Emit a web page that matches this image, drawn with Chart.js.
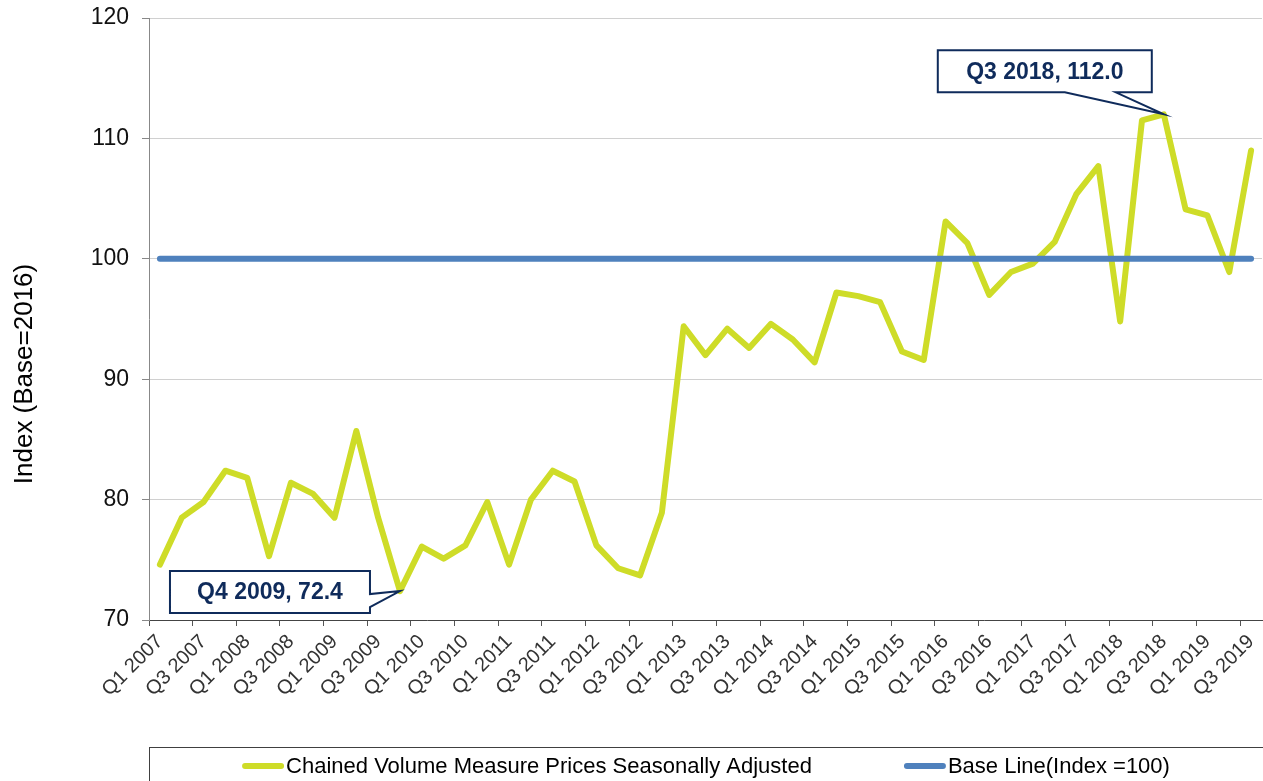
<!DOCTYPE html>
<html><head><meta charset="utf-8">
<script src="https://cdn.jsdelivr.net/npm/chart.js@4.4.1/dist/chart.umd.min.js"></script>
<style>html,body{margin:0;padding:0;background:#fff;}#wrap{width:1263px;height:781px;position:relative;}</style>
</head><body><div id="wrap"><canvas id="c"></canvas></div>
<script>
const categories = [
  'Q1 2007','Q2 2007','Q3 2007','Q4 2007','Q1 2008','Q2 2008','Q3 2008','Q4 2008',
  'Q1 2009','Q2 2009','Q3 2009','Q4 2009','Q1 2010','Q2 2010','Q3 2010','Q4 2010',
  'Q1 2011','Q2 2011','Q3 2011','Q4 2011','Q1 2012','Q2 2012','Q3 2012','Q4 2012',
  'Q1 2013','Q2 2013','Q3 2013','Q4 2013','Q1 2014','Q2 2014','Q3 2014','Q4 2014',
  'Q1 2015','Q2 2015','Q3 2015','Q4 2015','Q1 2016','Q2 2016','Q3 2016','Q4 2016',
  'Q1 2017','Q2 2017','Q3 2017','Q4 2017','Q1 2018','Q2 2018','Q3 2018','Q4 2018',
  'Q1 2019','Q2 2019','Q3 2019'
];
const chainedVolume = [
  74.6, 78.5, 79.8, 82.4, 81.8, 75.3, 81.4, 80.5,
  78.5, 85.7, 78.5, 72.4, 76.1, 75.1, 76.2, 79.8,
  74.6, 80.0, 82.4, 81.5, 76.2, 74.3, 73.7, 78.9,
  94.4, 92.0, 94.2, 92.6, 94.6, 93.3, 91.4, 97.2,
  96.9, 96.4, 92.3, 91.6, 103.1, 101.3, 97.0, 98.9,
  99.6, 101.4, 105.4, 107.7, 94.8, 111.5, 112.0, 104.1,
  103.6, 98.9, 109.0
];
const baseLine = [
  100, 100, 100, 100, 100, 100, 100, 100,
  100, 100, 100, 100, 100, 100, 100, 100,
  100, 100, 100, 100, 100, 100, 100, 100,
  100, 100, 100, 100, 100, 100, 100, 100,
  100, 100, 100, 100, 100, 100, 100, 100,
  100, 100, 100, 100, 100, 100, 100, 100,
  100, 100, 100
];
const seriesNames = ['Chained Volume Measure Prices Seasonally Adjusted', 'Base Line(Index =100)'];
const yTicks = [70, 80, 90, 100, 110, 120];
const yTitle = 'Index (Base=2016)';
const calloutIndices = [11, 46];

const GREEN = '#CEDC28', BLUE = '#4F81BD', NAVY = '#0F2B5B';
const FONT = '"Liberation Sans", Arial, sans-serif';

const calloutLayout = {
  11: {side: 'right', x0: -230, x1: -30, y0: -20, y1: 22, n0: 3, n1: 16},
  46: {side: 'bottom', x0: -226, x1: -12, y0: -64, y1: -22, n0: -99, n1: -48}
};

const calloutPlugin = {
  id: 'callouts',
  afterDatasetsDraw(chart) {
    const ctx = chart.ctx, xs = chart.scales.x, ys = chart.scales.y;
    calloutIndices.forEach(i => {
      const tx = xs.getPixelForValue(i), ty = ys.getPixelForValue(chainedVolume[i]);
      const L = calloutLayout[i];
      const x0 = tx + L.x0, x1 = tx + L.x1, y0 = ty + L.y0, y1 = ty + L.y1;
      ctx.save();
      ctx.beginPath();
      ctx.moveTo(x0, y0); ctx.lineTo(x1, y0);
      if (L.side === 'right') {
        ctx.lineTo(x1, ty + L.n0); ctx.lineTo(tx, ty); ctx.lineTo(x1, ty + L.n1);
        ctx.lineTo(x1, y1); ctx.lineTo(x0, y1);
      } else {
        ctx.lineTo(x1, y1); ctx.lineTo(tx + L.n1, y1); ctx.lineTo(tx, ty);
        ctx.lineTo(tx + L.n0, y1); ctx.lineTo(x0, y1);
      }
      ctx.closePath();
      ctx.fillStyle = '#fff'; ctx.fill();
      ctx.lineWidth = 2; ctx.strokeStyle = NAVY; ctx.lineJoin = 'miter'; ctx.stroke();
      ctx.fillStyle = NAVY;
      ctx.font = 'bold 23px ' + FONT;
      ctx.textAlign = 'center'; ctx.textBaseline = 'middle';
      ctx.fillText(categories[i] + ', ' + chainedVolume[i].toFixed(1), (x0 + x1) / 2, (y0 + y1) / 2 + 1);
      ctx.restore();
    });
  }
};

const legendPlugin = {
  id: 'customLegend',
  afterDraw(chart) {
    const ctx = chart.ctx;
    ctx.save();
    ctx.strokeStyle = '#404040'; ctx.lineWidth = 1;
    ctx.strokeRect(149.5, 747.5, 1130, 60);
    ctx.font = '22px ' + FONT;
    const colors = [GREEN, BLUE];
    const lineLen = 42, gap = 2, itemGap = 92;
    const widths = seriesNames.map(s => ctx.measureText(s).width);
    let total = 0;
    widths.forEach((w, k) => { total += lineLen + gap + w + (k ? itemGap : 0); });
    let x = (149 + 1263) / 2 - total / 2;
    const cy = 766;
    seriesNames.forEach((s, k) => {
      ctx.beginPath();
      ctx.moveTo(x + 3, cy); ctx.lineTo(x + lineLen - 3, cy);
      ctx.strokeStyle = colors[k]; ctx.lineWidth = 6; ctx.lineCap = 'round'; ctx.stroke();
      ctx.fillStyle = '#000'; ctx.textAlign = 'left'; ctx.textBaseline = 'middle';
      ctx.fillText(s, x + lineLen + gap, cy + 1);
      x += lineLen + gap + widths[k] + itemGap;
    });
    ctx.restore();
  }
};

const yTitlePlugin = {
  id: 'yTitle',
  afterDraw(chart) {
    const ctx = chart.ctx;
    ctx.save();
    ctx.translate(25, 374);
    ctx.rotate(-Math.PI / 2);
    ctx.font = '26px ' + FONT;
    ctx.fillStyle = '#000';
    ctx.textAlign = 'center'; ctx.textBaseline = 'middle';
    ctx.fillText(yTitle, 0, 0);
    ctx.restore();
  }
};

function clearPad(s) { s.paddingTop = 0; s.paddingBottom = 0; s.paddingLeft = 0; s.paddingRight = 0; }

new Chart(document.getElementById('c'), {
  type: 'line',
  data: {
    labels: categories,
    datasets: [
      {label: seriesNames[0], data: chainedVolume, borderColor: GREEN, borderWidth: 6,
       pointRadius: 0, tension: 0, fill: false, borderJoinStyle: 'round', borderCapStyle: 'round', order: 1},
      {label: seriesNames[1], data: baseLine, borderColor: BLUE, borderWidth: 6,
       pointRadius: 0, tension: 0, fill: false, borderCapStyle: 'round', order: 0}
    ]
  },
  options: {
    responsive: true,
    maintainAspectRatio: false,
    animation: false,
    layout: {padding: {top: 18, right: 1, bottom: 34, left: 0}},
    plugins: {legend: {display: false}, tooltip: {enabled: false}},
    scales: {
      x: {
        offset: true,
        grid: {display: true, drawOnChartArea: false, drawTicks: true, tickLength: 6, offset: true,
               color: c => (c.index % 2 === 0 ? '#555' : 'rgba(0,0,0,0)')},
        border: {display: true, color: '#444', width: 1},
        ticks: {autoSkip: false, maxRotation: 45, minRotation: 45, padding: 4,
                color: '#333', font: {size: 20, family: FONT},
                callback: (v, i) => (i % 2 === 0 ? categories[i] : '')},
        afterFit: s => { s.height = 127; clearPad(s); }
      },
      y: {
        min: 70, max: 120,
        afterBuildTicks: s => { s.ticks = yTicks.map(v => ({value: v})); },
        grid: {color: '#d0d0d0', lineWidth: 1, drawTicks: true, tickLength: 7, tickColor: '#888'},
        border: {display: true, color: '#888', width: 1},
        ticks: {padding: 13, color: '#111', font: {size: 23, family: FONT}},
        afterFit: s => { s.width = 149; clearPad(s); }
      }
    }
  },
  plugins: [calloutPlugin, legendPlugin, yTitlePlugin]
});
</script></body></html>
